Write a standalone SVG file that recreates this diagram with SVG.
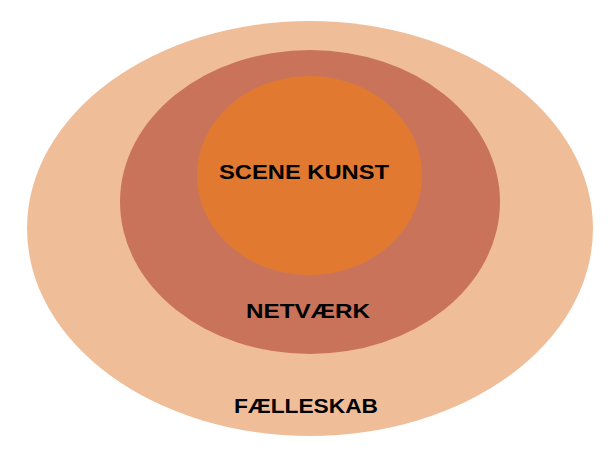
<svg xmlns="http://www.w3.org/2000/svg" width="612" height="456" viewBox="0 0 612 456">
<style>
.lbl{font-family:"Liberation Sans",Arial,sans-serif;font-weight:bold;font-size:21px;fill:#000;text-anchor:middle}
</style>
<rect width="612" height="456" fill="#fff"/>
<g id="faelleskab">
<ellipse cx="310" cy="228.5" rx="283" ry="207.5" fill="#F0BD99"/>
<text class="lbl" x="306" y="413" textLength="144" lengthAdjust="spacingAndGlyphs">FÆLLESKAB</text>
</g>
<g id="netvaerk">
<ellipse cx="310" cy="202" rx="190" ry="152" fill="#C9745A"/>
<text class="lbl" x="308" y="318" textLength="124" lengthAdjust="spacingAndGlyphs">NETVÆRK</text>
</g>
<g id="scenekunst">
<ellipse cx="309.5" cy="175.5" rx="112.5" ry="99.5" fill="#E17A30"/>
<text class="lbl" x="304" y="179" textLength="170" lengthAdjust="spacingAndGlyphs">SCENE KUNST</text>
</g>
<g id="connectors"/>
</svg>
